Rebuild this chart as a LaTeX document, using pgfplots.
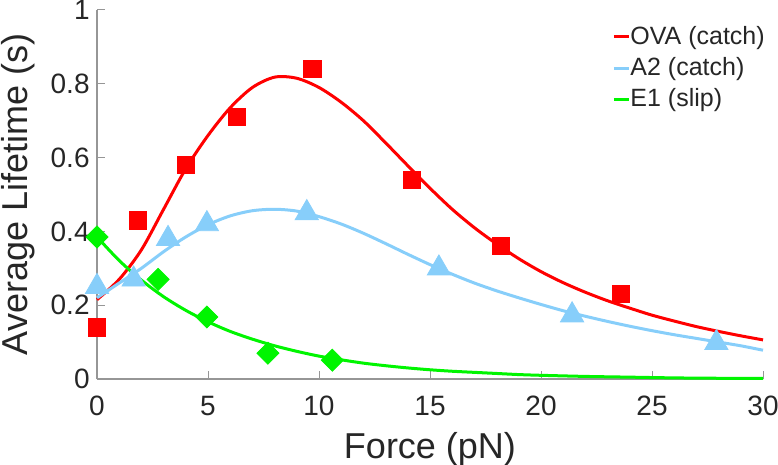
\documentclass[border=0pt]{standalone}
\usepackage{pgfplots}
\pgfplotsset{compat=1.18}
\usepackage{fontspec}
\setmainfont{Liberation Sans}
\definecolor{ovared}{RGB}{255,0,0}
\definecolor{a2blue}{RGB}{135,206,250}
\definecolor{e1green}{RGB}{0,245,0}
\definecolor{axgray}{RGB}{150,150,150}
\definecolor{txt}{RGB}{38,38,38}
\begin{document}
\begin{tikzpicture}
\begin{axis}[
  scale only axis,
  width=333pt, height=184.5pt,
  xmin=0, xmax=30, ymin=0, ymax=1,
  axis x line*=bottom, axis y line*=left,
  axis line style={axgray, line width=0.6pt},
  xtick={0,5,...,30}, ytick={0,0.2,...,1},
  tick style={axgray, line width=0.5pt},
  tick align=inside, major tick length=4pt,
  /pgf/number format/assume math mode=true,
  ticklabel style={font=\fontsize{14}{16}\selectfont, text=txt, inner sep=0pt},
  yticklabel style={anchor=east, xshift=-3.5pt},
  xticklabel style={anchor=base, yshift=-18pt},
  xlabel={Force (pN)}, ylabel={Average Lifetime (s)},
  label style={font=\fontsize{18}{21}\selectfont, text=txt, inner sep=0pt},
  xlabel style={at={(axis description cs:0.5,0)}, anchor=base, yshift=-39.5pt},
  ylabel style={at={(axis description cs:0,0.5)}, anchor=center, yshift=39.5pt},
  legend style={draw=none, fill=none, at={(rel axis cs:0.7733,0.962)}, anchor=north west,
    font=\fontsize{12.5}{15}\selectfont, text=txt, row sep=3pt, inner sep=0pt,
    nodes={inner xsep=0pt, inner ysep=1pt}},
  legend cell align=left,
  legend image code/.code={\draw[#1, line width=1.5pt] (0pt,0pt) -- (7.5pt,0pt);},
  clip=false,
]
% fitted curves
\addplot[ovared, line width=1.5pt, smooth] coordinates {
(0,0.215)(1,0.27)(2,0.35)(3,0.46)(4,0.57)(5,0.66)(6,0.735)(7,0.79)(8,0.818)(9,0.815)(10,0.79)
(11,0.75)(12,0.70)(13,0.64)(14,0.578)(15,0.517)(16,0.46)(17,0.41)(18,0.366)(19,0.326)(20,0.291)
(21,0.261)(22,0.235)(23,0.212)(24,0.192)(25,0.173)(26,0.157)(27,0.142)(28,0.129)(29,0.117)(30,0.106)};
\addlegendentry{OVA (catch)}
\addplot[a2blue, line width=1.5pt, smooth] coordinates {
(0,0.22)(1,0.26)(2,0.30)(3,0.345)(4,0.385)(5,0.418)(6,0.442)(7,0.456)(8,0.46)(9,0.455)(10,0.44)
(11,0.42)(12,0.395)(13,0.367)(14,0.338)(15,0.31)(16,0.284)(17,0.26)(18,0.239)(19,0.22)(20,0.202)
(21,0.185)(22,0.17)(23,0.156)(24,0.143)(25,0.131)(26,0.12)(27,0.11)(28,0.1)(29,0.09)(30,0.078)};
\addlegendentry{A2 (catch)}
\addplot[e1green, line width=1.5pt, smooth] coordinates {
(0,0.385)(1,0.321)(2,0.268)(3,0.223)(4,0.186)(5,0.155)(6,0.129)(7,0.108)(8,0.090)(9,0.075)(10,0.062)
(11,0.052)(12,0.043)(13,0.036)(14,0.030)(15,0.025)(16,0.021)(17,0.018)(18,0.015)(19,0.012)(20,0.010)
(22,0.007)(24,0.005)(26,0.003)(28,0.002)(30,0.002)};
\addlegendentry{E1 (slip)}
% data points
\addplot[only marks, mark=square*, mark size=4.3pt, ovared, forget plot] coordinates {
(0,0.14)(1.85,0.43)(4.0,0.58)(6.3,0.71)(9.7,0.84)(14.2,0.54)(18.2,0.36)(23.6,0.23)};
\addplot[only marks, mark=triangle*, mark size=6.7pt, a2blue, forget plot] coordinates {
(0,0.25)(1.65,0.27)(3.2,0.38)(4.95,0.42)(9.45,0.45)(15.4,0.30)(21.4,0.173)(27.9,0.098)};
\addplot[only marks, mark=square*, mark size=3.9pt, mark options={rotate=45}, e1green, forget plot] coordinates {
(0,0.385)(2.75,0.27)(4.95,0.168)(7.7,0.07)(10.6,0.051)};
\coordinate (SW) at (rel axis cs:0,0);
\coordinate (NE) at (rel axis cs:1,1);
\end{axis}
\pgfresetboundingbox
\path[use as bounding box] ([xshift=-48.5pt,yshift=-42.5pt]SW) rectangle ([xshift=7.5pt,yshift=5pt]NE);
\end{tikzpicture}
\end{document}
